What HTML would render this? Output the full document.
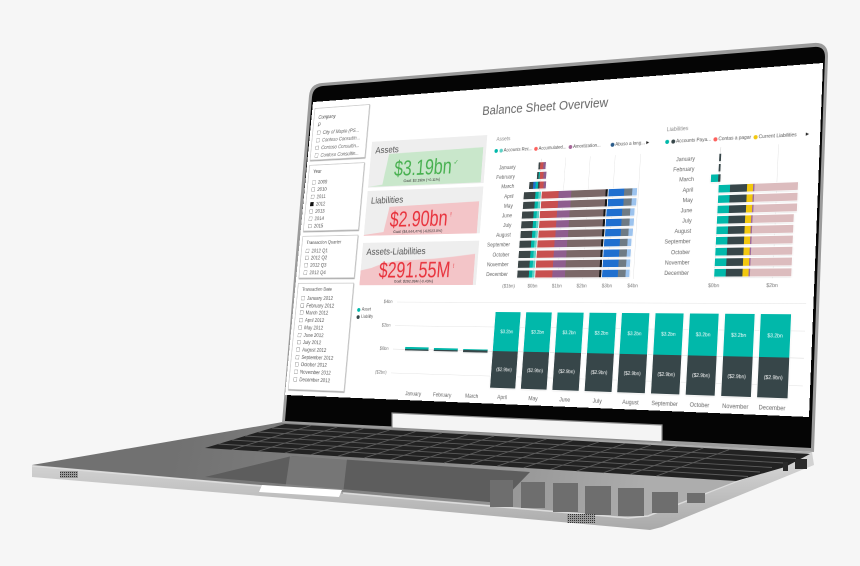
<!DOCTYPE html>
<html><head><meta charset="utf-8">
<style>
*{margin:0;padding:0;box-sizing:border-box}
html,body{width:860px;height:566px;overflow:hidden;background:#f6f6f6}
body{position:relative;font-family:"Liberation Sans",Arial,sans-serif}
svg.l{position:absolute;left:0;top:0}
#scr{position:absolute;left:0;top:0;width:1280px;height:720px;background:#fff;overflow:hidden;transform-origin:0 0;transform:matrix3d(0.288893,-0.038854,0,-0.00013310,-0.051267,0.389790,0,-0.000043429,0,0,1,0,313,102,0,1);color:#555}
#scr div{position:absolute;white-space:nowrap}
.sl{left:7px;width:163px;border:2px solid #cdcdcd;box-shadow:1px 2px 2px #9a9a9a;background:#fff}
.st{left:12px;font-size:12px;color:#444;line-height:14px}
.it{left:12px;font-size:12.5px;color:#555;line-height:14px}
.it i{display:inline-block;width:10px;height:10px;border:1px solid #888;margin-right:7px;vertical-align:-1px}
.it i.k{background:#111;border-color:#111}
.ci{font-style:italic;color:#666}
.card{left:186px;width:316px;background:#eeeeee}
.lab{left:12px;font-size:22px;line-height:22px;color:#555}
.val{left:0;width:298px;text-align:center;font-size:52px;line-height:52px}
.val span{display:inline-block;transform:scaleX(.84)}
.goal{left:0;width:298px;text-align:center;font-size:9.5px;line-height:10px;color:#333}
.b{height:16px;display:flex;box-shadow:0 0 0 1.5px #fff,0 1px 3px rgba(0,0,0,.35)}
.b span{height:100%;flex:none;display:block}
.ca{right:698px;font-size:12px;line-height:14px;color:#666}
.cb{right:268px;font-size:12px;line-height:14px;color:#666}
.ax{width:60px;text-align:center;font-size:11px;line-height:14px;color:#777;top:452px}
.dot{width:9px;height:9px;border-radius:50%;top:144px}
.lg{font-size:10.5px;line-height:12px;color:#555;top:142px}
.gl{background:#e2e2e2}
.col{width:63px;box-shadow:0 0 0 1.5px #fff,0 1px 3px rgba(0,0,0,.35)}
.ct{width:63px;display:flex;align-items:center;justify-content:center;color:#fff;font-size:10.5px}
.mo{width:83px;text-align:center;font-size:12px;line-height:14px;color:#666;top:698px}
.yl{right:997px;font-size:11px;line-height:14px;color:#777}
</style></head><body>

<svg class="l" width="860" height="566" viewBox="0 0 860 566">
<defs>
<linearGradient id="gt" gradientUnits="userSpaceOnUse" x1="180" y1="430" x2="640" y2="520">
<stop offset="0" stop-color="#717171"/><stop offset="0.55" stop-color="#8a8a8a"/><stop offset="1" stop-color="#adadad"/>
</linearGradient>
<linearGradient id="gf" gradientUnits="userSpaceOnUse" x1="0" y1="466" x2="0" y2="530">
<stop offset="0" stop-color="#d2d2d2"/><stop offset="1" stop-color="#a9a9a9"/>
</linearGradient>
<pattern id="dots" width="2" height="2" patternUnits="userSpaceOnUse"><rect width="2" height="2" fill="#9a9a9a"/><rect width="1" height="1" fill="#333"/></pattern>
</defs>
<!-- base faces -->
<polygon points="32,465 32,477 405,508 628,528 650,530 662,527 814,465 812,452" fill="url(#gf)"/>
<polyline points="32,466 628,518 648,516 812,452" fill="none" stroke="#dcdcdc" stroke-width="1.5"/>
<!-- top surface -->
<polygon points="32,465 283,422 812,452 648,515 628,517" fill="url(#gt)"/>
<!-- keyboard -->
<polygon points="285,424 810,454 785,467 736,481 205,448" fill="#222"/>
<g stroke="#5c5c5c" stroke-width="0.9">
<line x1="271.7" y1="428" x2="796" y2="458.5"/>
<line x1="258.3" y1="432" x2="784" y2="463"/>
<line x1="245" y1="436" x2="772" y2="467.5"/>
<line x1="231.7" y1="440" x2="760" y2="472"/>
<line x1="218.3" y1="444" x2="748" y2="476.5"/>
<line x1="311.2" y1="425.5" x2="231.6" y2="449.7"/>
<line x1="337.3" y1="427" x2="258.1" y2="451.3"/>
<line x1="363.5" y1="428.5" x2="284.7" y2="453"/>
<line x1="389.6" y1="430" x2="311.2" y2="454.6"/>
<line x1="415.8" y1="431.5" x2="337.8" y2="456.3"/>
<line x1="441.9" y1="433" x2="364.3" y2="457.9"/>
<line x1="468.1" y1="434.5" x2="390.9" y2="459.6"/>
<line x1="494.2" y1="436" x2="417.4" y2="461.2"/>
<line x1="520.4" y1="437.5" x2="444" y2="462.9"/>
<line x1="546.5" y1="439" x2="470.5" y2="464.5"/>
<line x1="572.7" y1="440.5" x2="497.1" y2="466.2"/>
<line x1="598.8" y1="442" x2="523.6" y2="467.8"/>
<line x1="625" y1="443.5" x2="550.2" y2="469.5"/>
<line x1="651.1" y1="445" x2="576.7" y2="471.1"/>
<line x1="677.3" y1="446.5" x2="603.3" y2="472.8"/>
<line x1="703.4" y1="448" x2="629.8" y2="474.4"/>
<line x1="729.6" y1="449.5" x2="656.4" y2="476.1"/>
</g>
<!-- trackpad -->
<polygon points="205,477 292,456 530,472 500,503" fill="#5d5d5d"/>
<polygon points="290,456 347,459 343,494 285,490" fill="#8a8a8a" opacity="0.55"/>
<!-- reflections of columns -->
<g fill="#6e6e6e">
<rect x="490" y="480" width="23" height="27"/>
<rect x="521" y="482" width="24" height="26"/>
<rect x="553" y="483" width="25" height="29"/>
<rect x="585" y="486" width="26" height="29"/>
<rect x="618" y="488" width="26" height="28"/>
<rect x="652" y="492" width="26" height="21"/>
<rect x="687" y="493" width="18" height="10"/>
</g>
<polygon points="262,485 342,490 339,497 259,492" fill="#ffffff"/>
<rect x="60" y="471" width="18" height="7" fill="url(#dots)"/>
<rect x="567" y="514" width="28" height="9" fill="url(#dots)"/>
<rect x="783" y="462" width="5" height="9" fill="#2a2a2a"/>
<rect x="795" y="459" width="12" height="10" fill="#2a2a2a"/>
<!-- lid -->
<path d="M282,423 L309,96 Q310,84 322,83 L814,43 Q828,42 828,56 L814,452 Z" fill="#9b9b9b"/>
<path d="M285,421 L312,97 Q313,87 323,86 L814,47 Q825,46 825,57 L811,448 Z" fill="#050505"/>
</svg>

<div id="scr">
<div style="left:443px;top:38px;width:400px;text-align:center;font-size:29px;line-height:30px;color:#666">Balance Sheet Overview</div>

<!-- slicers -->
<div class="sl" style="top:16px;height:132px">
<div class="st" style="top:15px;font-style:italic">Company</div>
<div style="left:13px;top:35px;width:8px;height:8px;border:1.5px solid #555;border-radius:50%"></div>
<div style="left:12px;top:42px;width:5px;height:1.5px;background:#555;transform:rotate(-45deg)"></div>
<div class="it ci" style="top:54px"><i></i>City of Maple (PS...</div>
<div class="it ci" style="top:73px"><i></i>Contoso Consultin...</div>
<div class="it ci" style="top:92px"><i></i>Contoso Consultin...</div>
<div class="it ci" style="top:111px"><i></i>Contoso Consultin...</div>
</div>
<div class="sl" style="top:159px;height:165px">
<div class="st" style="top:8px">Year</div>
<div class="it" style="top:35px"><i></i>2009</div>
<div class="it" style="top:53px"><i></i>2010</div>
<div class="it" style="top:71px"><i></i>2011</div>
<div class="it" style="top:89px"><i class="k"></i>2012</div>
<div class="it" style="top:107px"><i></i>2013</div>
<div class="it" style="top:125px"><i></i>2014</div>
<div class="it" style="top:143px"><i></i>2015</div>
</div>
<div class="sl" style="top:335px;height:104px">
<div class="st" style="top:8px;font-size:11.5px">Transaction Quarter</div>
<div class="it" style="top:28px"><i></i>2012 Q1</div>
<div class="it" style="top:45px"><i></i>2012 Q2</div>
<div class="it" style="top:63px"><i></i>2012 Q3</div>
<div class="it" style="top:81px"><i></i>2012 Q4</div>
</div>
<div class="sl" style="top:450px;height:257px">
<div class="st" style="top:7px;font-size:11.5px">Transaction Date</div>
<div class="it" style="top:28px"><i></i>January 2012</div>
<div class="it" style="top:45.7px"><i></i>February 2012</div>
<div class="it" style="top:63.4px"><i></i>March 2012</div>
<div class="it" style="top:81.1px"><i></i>April 2012</div>
<div class="it" style="top:98.8px"><i></i>May 2012</div>
<div class="it" style="top:116.5px"><i></i>June 2012</div>
<div class="it" style="top:134.2px"><i></i>July 2012</div>
<div class="it" style="top:151.9px"><i></i>August 2012</div>
<div class="it" style="top:169.6px"><i></i>September 2012</div>
<div class="it" style="top:187.3px"><i></i>October 2012</div>
<div class="it" style="top:205px"><i></i>November 2012</div>
<div class="it" style="top:222.7px"><i></i>December 2012</div>
</div>

<!-- cards -->
<div class="card" style="top:110px;height:112px">
<svg style="position:absolute;left:0;top:0" width="316" height="112"><polygon points="0,110 40,106 52,32 308,28 308,110" fill="#c9e7cb"/></svg>
<div class="lab" style="top:11px">Assets</div>
<div class="val" style="top:43px;color:#47b04f"><span>$3.19bn</span></div>
<div style="left:232px;top:50px;font-size:16px;color:#47b04f">&#10003;</div>
<div class="goal" style="top:95px">Goal: $3.19bn (+0.11%)</div>
</div>
<div class="card" style="top:230px;height:108px">
<svg style="position:absolute;left:0;top:0" width="316" height="108"><polygon points="0,106 55,100 66,40 308,34 308,108 0,108" fill="#f3c5c8"/></svg>
<div class="lab" style="top:13px">Liabilities</div>
<div class="val" style="top:45px;color:#e8323c"><span>$2.90bn</span></div>
<div style="left:234px;top:54px;font-size:14px;color:#e8323c">!</div>
<div class="goal" style="top:96px">Goal: ($4,644,474) (-62523.9%)</div>
</div>
<div class="card" style="top:355px;height:101px">
<svg style="position:absolute;left:0;top:0" width="316" height="101"><polygon points="0,101 0,66 30,60 60,50 100,44 150,42 200,40 250,36 308,30 308,101" fill="#f3c5c8"/></svg>
<div class="lab" style="top:11px">Assets-Liabilities</div>
<div class="val" style="top:40px;color:#e8323c"><span>$291.55M</span></div>
<div style="left:252px;top:49px;font-size:14px;color:#e8323c">!</div>
<div class="goal" style="top:88px">Goal: $292.89M (-0.43%)</div>
</div>

<!-- Assets chart -->
<div style="left:527px;top:114px;font-size:12px;color:#888">Assets</div>
<div class="dot" style="left:524px;background:#01b8aa"></div>
<div class="dot" style="left:537px;background:#5fd0c5"></div>
<div class="lg" style="left:548px">Accounts Rec...</div>
<div class="dot" style="left:626px;background:#fd625e"></div>
<div class="lg" style="left:637px">Accumulated...</div>
<div class="dot" style="left:712px;background:#a66999"></div>
<div class="lg" style="left:723px">Amortization...</div>
<div class="dot" style="left:814px;background:#2a5b8a"></div>
<div class="lg" style="left:825px">Abuso a long...</div>
<div style="left:898px;top:142px;font-size:9px;color:#222">&#9654;</div>

<div style="left:646px;top:172px;width:1px;height:272px;background:#cfcfcf"></div>
<div class="gl" style="left:706px;top:172px;width:1px;height:272px"></div>
<div class="gl" style="left:766px;top:172px;width:1px;height:272px"></div>
<div class="gl" style="left:826px;top:172px;width:1px;height:272px"></div>
<div class="gl" style="left:886px;top:172px;width:1px;height:272px"></div>

<div class="ca" style="top:181px">January</div>
<div class="ca" style="top:203.2px">February</div>
<div class="ca" style="top:225.4px">March</div>
<div class="ca" style="top:247.5px">April</div>
<div class="ca" style="top:269.7px">May</div>
<div class="ca" style="top:291.9px">June</div>
<div class="ca" style="top:314.1px">July</div>
<div class="ca" style="top:336.3px">August</div>
<div class="ca" style="top:358.4px">September</div>
<div class="ca" style="top:380.6px">October</div>
<div class="ca" style="top:402.8px">November</div>
<div class="ca" style="top:425px">December</div>

<div class="b" style="left:640px;top:180px"><span style="width:4px;background:#3b4546"></span><span style="width:8px;background:#c8504f"></span><span style="width:6px;background:#8e5d8e"></span></div>
<div class="b" style="left:638px;top:202.2px"><span style="width:4px;background:#3b4546"></span><span style="width:3px;background:#01b8aa"></span><span style="width:9px;background:#c8504f"></span><span style="width:7px;background:#8e5d8e"></span></div>
<div class="b" style="left:620px;top:224.4px"><span style="width:10px;background:#3b4546"></span><span style="width:6px;background:#1f6fcf"></span><span style="width:6px;background:#01b8aa"></span><span style="width:4px;background:#3b4546"></span><span style="width:10px;background:#c8504f"></span><span style="width:6px;background:#8e5d8e"></span></div>

<div class="b" style="left:608px;top:246.5px"><span style="width:29px;background:#3b4546"></span><span style="width:8px;background:#01b8aa"></span><span style="width:6px;background:#5fd0c5"></span><span style="width:2px;background:#fff"></span><span style="width:42px;background:#c8504f"></span><span style="width:31px;background:#8e5d8e"></span><span style="width:83px;background:#7a6767"></span><span style="width:5px;background:#141414"></span><span style="width:2px;background:#fff"></span><span style="width:37px;background:#1f6fcf"></span><span style="width:19px;background:#6f7b84"></span><span style="width:11px;background:#9cc3ee"></span></div>
<div class="b" style="left:608px;top:268.7px"><span style="width:29px;background:#3b4546"></span><span style="width:8px;background:#01b8aa"></span><span style="width:6px;background:#5fd0c5"></span><span style="width:2px;background:#fff"></span><span style="width:42px;background:#c8504f"></span><span style="width:31px;background:#8e5d8e"></span><span style="width:83px;background:#7a6767"></span><span style="width:5px;background:#141414"></span><span style="width:2px;background:#fff"></span><span style="width:37px;background:#1f6fcf"></span><span style="width:19px;background:#6f7b84"></span><span style="width:11px;background:#9cc3ee"></span></div>
<div class="b" style="left:607px;top:290.9px"><span style="width:29px;background:#3b4546"></span><span style="width:8px;background:#01b8aa"></span><span style="width:6px;background:#5fd0c5"></span><span style="width:2px;background:#fff"></span><span style="width:42px;background:#c8504f"></span><span style="width:31px;background:#8e5d8e"></span><span style="width:82px;background:#7a6767"></span><span style="width:5px;background:#141414"></span><span style="width:2px;background:#fff"></span><span style="width:37px;background:#1f6fcf"></span><span style="width:19px;background:#6f7b84"></span><span style="width:10px;background:#9cc3ee"></span></div>
<div class="b" style="left:607px;top:313.1px"><span style="width:29px;background:#3b4546"></span><span style="width:8px;background:#01b8aa"></span><span style="width:6px;background:#5fd0c5"></span><span style="width:2px;background:#fff"></span><span style="width:42px;background:#c8504f"></span><span style="width:31px;background:#8e5d8e"></span><span style="width:82px;background:#7a6767"></span><span style="width:5px;background:#141414"></span><span style="width:2px;background:#fff"></span><span style="width:37px;background:#1f6fcf"></span><span style="width:19px;background:#6f7b84"></span><span style="width:10px;background:#9cc3ee"></span></div>
<div class="b" style="left:607px;top:335.3px"><span style="width:29px;background:#3b4546"></span><span style="width:8px;background:#01b8aa"></span><span style="width:6px;background:#5fd0c5"></span><span style="width:2px;background:#fff"></span><span style="width:42px;background:#c8504f"></span><span style="width:31px;background:#8e5d8e"></span><span style="width:82px;background:#7a6767"></span><span style="width:5px;background:#141414"></span><span style="width:2px;background:#fff"></span><span style="width:37px;background:#1f6fcf"></span><span style="width:18px;background:#6f7b84"></span><span style="width:10px;background:#9cc3ee"></span></div>
<div class="b" style="left:606px;top:357.4px"><span style="width:29px;background:#3b4546"></span><span style="width:8px;background:#01b8aa"></span><span style="width:6px;background:#5fd0c5"></span><span style="width:2px;background:#fff"></span><span style="width:42px;background:#c8504f"></span><span style="width:31px;background:#8e5d8e"></span><span style="width:82px;background:#7a6767"></span><span style="width:5px;background:#141414"></span><span style="width:2px;background:#fff"></span><span style="width:37px;background:#1f6fcf"></span><span style="width:18px;background:#6f7b84"></span><span style="width:9px;background:#9cc3ee"></span></div>
<div class="b" style="left:606px;top:379.6px"><span style="width:29px;background:#3b4546"></span><span style="width:8px;background:#01b8aa"></span><span style="width:6px;background:#5fd0c5"></span><span style="width:2px;background:#fff"></span><span style="width:42px;background:#c8504f"></span><span style="width:31px;background:#8e5d8e"></span><span style="width:82px;background:#7a6767"></span><span style="width:5px;background:#141414"></span><span style="width:2px;background:#fff"></span><span style="width:37px;background:#1f6fcf"></span><span style="width:18px;background:#6f7b84"></span><span style="width:9px;background:#9cc3ee"></span></div>
<div class="b" style="left:606px;top:401.8px"><span style="width:29px;background:#3b4546"></span><span style="width:8px;background:#01b8aa"></span><span style="width:6px;background:#5fd0c5"></span><span style="width:2px;background:#fff"></span><span style="width:42px;background:#c8504f"></span><span style="width:31px;background:#8e5d8e"></span><span style="width:82px;background:#7a6767"></span><span style="width:5px;background:#141414"></span><span style="width:2px;background:#fff"></span><span style="width:37px;background:#1f6fcf"></span><span style="width:18px;background:#6f7b84"></span><span style="width:9px;background:#9cc3ee"></span></div>
<div class="b" style="left:606px;top:424px"><span style="width:29px;background:#3b4546"></span><span style="width:8px;background:#01b8aa"></span><span style="width:6px;background:#5fd0c5"></span><span style="width:2px;background:#fff"></span><span style="width:42px;background:#c8504f"></span><span style="width:31px;background:#8e5d8e"></span><span style="width:82px;background:#7a6767"></span><span style="width:5px;background:#141414"></span><span style="width:2px;background:#fff"></span><span style="width:37px;background:#1f6fcf"></span><span style="width:18px;background:#6f7b84"></span><span style="width:9px;background:#9cc3ee"></span></div>

<div class="ax" style="left:556px">($1bn)</div>
<div class="ax" style="left:616px">$0bn</div>
<div class="ax" style="left:676px">$1bn</div>
<div class="ax" style="left:736px">$2bn</div>
<div class="ax" style="left:796px">$3bn</div>
<div class="ax" style="left:856px">$4bn</div>

<!-- Liabilities chart -->
<div style="left:944px;top:114px;font-size:12px;color:#888">Liabilities</div>
<div class="dot" style="left:942px;background:#01b8aa"></div>
<div class="dot" style="left:956px;background:#374649"></div>
<div class="lg" style="left:967px">Accounts Paya...</div>
<div class="dot" style="left:1051px;background:#fd625e"></div>
<div class="lg" style="left:1062px">Contas a pagar</div>
<div class="dot" style="left:1139px;background:#f2c80f"></div>
<div class="lg" style="left:1150px">Current Liabilities</div>
<div style="left:1250px;top:142px;font-size:9px;color:#222">&#9654;</div>

<div style="left:1068px;top:166px;width:1px;height:278px;background:#cfcfcf"></div>
<div class="gl" style="left:1193px;top:166px;width:1px;height:278px"></div>

<div class="cb" style="top:181px">January</div>
<div class="cb" style="top:203.2px">February</div>
<div class="cb" style="top:225.4px">March</div>
<div class="cb" style="top:247.5px">April</div>
<div class="cb" style="top:269.7px">May</div>
<div class="cb" style="top:291.9px">June</div>
<div class="cb" style="top:314.1px">July</div>
<div class="cb" style="top:336.3px">August</div>
<div class="cb" style="top:358.4px">September</div>
<div class="cb" style="top:380.6px">October</div>
<div class="cb" style="top:402.8px">November</div>
<div class="cb" style="top:425px">December</div>

<div class="b" style="left:1066px;top:180px"><span style="width:4px;background:#374649"></span></div>
<div class="b" style="left:1066px;top:202.2px"><span style="width:4px;background:#374649"></span></div>
<div class="b" style="left:1050px;top:224.4px"><span style="width:16px;background:#01b8aa"></span><span style="width:5px;background:#374649"></span></div>
<div class="b" style="left:1068px;top:246.5px"><span style="width:25px;background:#01b8aa"></span><span style="width:37px;background:#374649"></span><span style="width:13px;background:#f2c80f"></span><span style="width:3px;background:#9b6aa0"></span><span style="width:92px;background:#dcbcbe"></span></div>
<div class="b" style="left:1068px;top:268.7px"><span style="width:25px;background:#01b8aa"></span><span style="width:37px;background:#374649"></span><span style="width:13px;background:#f2c80f"></span><span style="width:3px;background:#9b6aa0"></span><span style="width:92px;background:#dcbcbe"></span></div>
<div class="b" style="left:1068px;top:290.9px"><span style="width:25px;background:#01b8aa"></span><span style="width:37px;background:#374649"></span><span style="width:13px;background:#f2c80f"></span><span style="width:3px;background:#9b6aa0"></span><span style="width:92px;background:#dcbcbe"></span></div>
<div class="b" style="left:1068px;top:313.1px"><span style="width:25px;background:#01b8aa"></span><span style="width:36px;background:#374649"></span><span style="width:13px;background:#f2c80f"></span><span style="width:3px;background:#9b6aa0"></span><span style="width:87px;background:#dcbcbe"></span></div>
<div class="b" style="left:1068px;top:335.3px"><span style="width:25px;background:#01b8aa"></span><span style="width:36px;background:#374649"></span><span style="width:13px;background:#f2c80f"></span><span style="width:3px;background:#9b6aa0"></span><span style="width:87px;background:#dcbcbe"></span></div>
<div class="b" style="left:1068px;top:357.4px"><span style="width:25px;background:#01b8aa"></span><span style="width:36px;background:#374649"></span><span style="width:13px;background:#f2c80f"></span><span style="width:3px;background:#9b6aa0"></span><span style="width:87px;background:#dcbcbe"></span></div>
<div class="b" style="left:1068px;top:379.6px"><span style="width:25px;background:#01b8aa"></span><span style="width:36px;background:#374649"></span><span style="width:13px;background:#f2c80f"></span><span style="width:3px;background:#9b6aa0"></span><span style="width:87px;background:#dcbcbe"></span></div>
<div class="b" style="left:1068px;top:401.8px"><span style="width:25px;background:#01b8aa"></span><span style="width:36px;background:#374649"></span><span style="width:13px;background:#f2c80f"></span><span style="width:3px;background:#9b6aa0"></span><span style="width:87px;background:#dcbcbe"></span></div>
<div class="b" style="left:1068px;top:424px"><span style="width:25px;background:#01b8aa"></span><span style="width:36px;background:#374649"></span><span style="width:13px;background:#f2c80f"></span><span style="width:3px;background:#9b6aa0"></span><span style="width:87px;background:#dcbcbe"></span></div>

<div class="ax" style="left:1038px">$0bn</div>
<div class="ax" style="left:1163px">$2bn</div>

<!-- Column chart -->
<div style="left:186px;top:510px;width:9px;height:9px;border-radius:50%;background:#01b8aa"></div>
<div style="left:199px;top:508px;font-size:10px;color:#555">Asset</div>
<div style="left:186px;top:527px;width:9px;height:9px;border-radius:50%;background:#374649"></div>
<div style="left:199px;top:525px;font-size:10px;color:#555">Liability</div>

<div class="gl" style="left:295px;top:495px;width:970px;height:1px"></div>
<div class="gl" style="left:295px;top:550px;width:970px;height:1px"></div>
<div class="gl" style="left:295px;top:604px;width:970px;height:1px;background:#d6d6d6"></div>
<div class="gl" style="left:295px;top:659px;width:970px;height:1px"></div>
<div class="yl" style="top:488px">$4bn</div>
<div class="yl" style="top:543px">$2bn</div>
<div class="yl" style="top:597px">$0bn</div>
<div class="yl" style="top:652px">($2bn)</div>

<div class="col" style="left:328px;top:599px;height:8px;background:linear-gradient(#01b8aa 0 60%,#374649 60%)"></div>
<div class="col" style="left:404.75px;top:600px;height:7px;background:linear-gradient(#01b8aa 0 55%,#374649 55%)"></div>
<div class="col" style="left:481.5px;top:601px;height:7px;background:linear-gradient(#01b8aa 0 35%,#374649 35%)"></div>

<div class="col" style="left:558.25px;top:517px;height:168px;background:linear-gradient(#01b8aa 0 87px,#374649 87px)"></div>
<div class="col" style="left:635px;top:517px;height:168px;background:linear-gradient(#01b8aa 0 87px,#374649 87px)"></div>
<div class="col" style="left:711.75px;top:517px;height:168px;background:linear-gradient(#01b8aa 0 87px,#374649 87px)"></div>
<div class="col" style="left:788.5px;top:517px;height:168px;background:linear-gradient(#01b8aa 0 87px,#374649 87px)"></div>
<div class="col" style="left:865.25px;top:517px;height:168px;background:linear-gradient(#01b8aa 0 87px,#374649 87px)"></div>
<div class="col" style="left:942px;top:517px;height:168px;background:linear-gradient(#01b8aa 0 87px,#374649 87px)"></div>
<div class="col" style="left:1018.75px;top:517px;height:168px;background:linear-gradient(#01b8aa 0 87px,#374649 87px)"></div>
<div class="col" style="left:1095.5px;top:517px;height:168px;background:linear-gradient(#01b8aa 0 87px,#374649 87px)"></div>
<div class="col" style="left:1172.25px;top:517px;height:168px;background:linear-gradient(#01b8aa 0 87px,#374649 87px)"></div>

<div class="ct" style="left:558.25px;top:517px;height:87px">$3.2bn</div>
<div class="ct" style="left:635px;top:517px;height:87px">$3.2bn</div>
<div class="ct" style="left:711.75px;top:517px;height:87px">$3.2bn</div>
<div class="ct" style="left:788.5px;top:517px;height:87px">$3.2bn</div>
<div class="ct" style="left:865.25px;top:517px;height:87px">$3.2bn</div>
<div class="ct" style="left:942px;top:517px;height:87px">$3.2bn</div>
<div class="ct" style="left:1018.75px;top:517px;height:87px">$3.2bn</div>
<div class="ct" style="left:1095.5px;top:517px;height:87px">$3.2bn</div>
<div class="ct" style="left:1172.25px;top:517px;height:87px">$3.2bn</div>
<div class="ct" style="left:558.25px;top:604px;height:81px">($2.9bn)</div>
<div class="ct" style="left:635px;top:604px;height:81px">($2.9bn)</div>
<div class="ct" style="left:711.75px;top:604px;height:81px">($2.9bn)</div>
<div class="ct" style="left:788.5px;top:604px;height:81px">($2.9bn)</div>
<div class="ct" style="left:865.25px;top:604px;height:81px">($2.9bn)</div>
<div class="ct" style="left:942px;top:604px;height:81px">($2.9bn)</div>
<div class="ct" style="left:1018.75px;top:604px;height:81px">($2.9bn)</div>
<div class="ct" style="left:1095.5px;top:604px;height:81px">($2.9bn)</div>
<div class="ct" style="left:1172.25px;top:604px;height:81px">($2.9bn)</div>

<div class="mo" style="left:318px">January</div>
<div class="mo" style="left:394.75px">February</div>
<div class="mo" style="left:471.5px">March</div>
<div class="mo" style="left:548.25px">April</div>
<div class="mo" style="left:625px">May</div>
<div class="mo" style="left:701.75px">June</div>
<div class="mo" style="left:778.5px">July</div>
<div class="mo" style="left:855.25px">August</div>
<div class="mo" style="left:932px">September</div>
<div class="mo" style="left:1008.75px">October</div>
<div class="mo" style="left:1085.5px">November</div>
<div class="mo" style="left:1162.25px">December</div>
</div>

<svg class="l" width="860" height="566" viewBox="0 0 860 566">
<polygon points="392,413 662,425 662,442 392,428" fill="#f4f4f4" stroke="#8a8a8a" stroke-width="1.2"/>
</svg>
</body></html>
